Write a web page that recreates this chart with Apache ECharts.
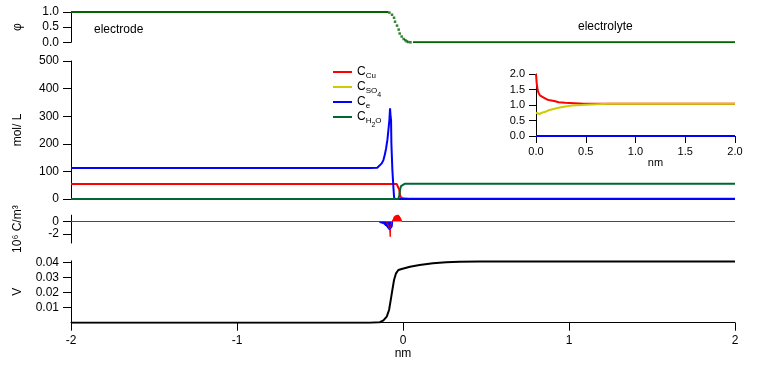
<!DOCTYPE html>
<html><head><meta charset="utf-8">
<script src="https://cdn.jsdelivr.net/npm/echarts@6/dist/echarts.min.js"></script>
<style>html,body{margin:0;padding:0;background:#fff}#c{width:761px;height:365px}</style>
</head><body><div id="c"></div>
<script>
// ---- data (x in nm) ----
const phiFlatX = [-2, -0.088, null, 0.06, 2];
const phiFlatY = [1, 1, null, 0, 0];
const phiDotX = [-0.082, -0.066, -0.054, -0.048, -0.036, -0.026, -0.020, -0.008, 0.004, 0.014, 0.022, 0.032, 0.045];
const phiDotY = [0.98, 0.91, 0.81, 0.68, 0.55, 0.42, 0.29, 0.19, 0.11, 0.07, 0.03, 0.01, 0.0];

const cuX = [-2, -0.038, -0.028, -0.022, -0.018, -0.012, -0.005, 0, 0.007, 0.017, 0.027, 0.043, 0.077, 0.11, 0.143, 0.193, 0.227, 0.293, 0.31, 0.477, 0.727, 2];
const cuY = [54.3, 54.3, 51, 33, 14, 6, 3, 2.0, 1.70, 1.48, 1.38, 1.30, 1.24, 1.18, 1.15, 1.12, 1.09, 1.075, 1.04, 1.04, 1.04, 1.04];
const so4X = [-2, -0.02, 0, 0.01, 0.033, 0.06, 0.093, 0.127, 0.177, 0.227, 0.293, 0.36, 0.46, 0.5, 0.727, 2];
const so4Y = [0, 0, 0.75, 0.73, 0.71, 0.75, 0.78, 0.83, 0.87, 0.91, 0.95, 0.98, 1.0, 1.01, 1.04, 1.04];
const eX = [-2, -0.2, -0.155, -0.143, -0.128, -0.118, -0.11, -0.102, -0.094, -0.088, -0.082, -0.078, -0.075, -0.072, -0.07, -0.064, -0.058, -0.054, -0.05, 0, 2];
const eY = [112, 112, 113, 119, 129, 141, 159, 183, 214, 250, 286, 329, 300, 286, 202, 105, 45, 8, 0, 0, 0];
const h2oX = [-2, -0.028, -0.022, -0.018, -0.012, -0.002, 0.012, 2];
const h2oY = [0, 0, 14, 33, 47, 54, 55.5, 55.5];

const rhoX = [-2, -0.1, -0.094, -0.086, -0.08, -0.077, -0.075, -0.072, -0.066, -0.062, -0.058, -0.052, -0.045, -0.03, -0.02, -0.014, -0.008, 2];
const rhoY = [0, 0, -0.3, -0.8, -1.4, -2.4, -1.5, -0.5, 0, 0, 0.4, 0.8, 1.05, 1.1, 0.9, 0.5, 0, 0];
const rhoEX = [-0.142, -0.13, -0.12, -0.108, -0.098, -0.09, -0.084, -0.078, -0.072, -0.066, -0.062];
const rhoEY = [-0.15, -0.2, -0.3, -0.5, -0.8, -1.1, -1.3, -1.4, -1.3, -0.9, 0];

const vX = [-2, -0.2, -0.139, -0.118, -0.098, -0.084, -0.074, -0.064, -0.054, -0.042, -0.028, -0.008, 0.042, 0.10, 0.18, 0.26, 0.34, 0.46, 2];
const vY = [0, 0, 0.0003, 0.0015, 0.004, 0.0084, 0.015, 0.0217, 0.0283, 0.0327, 0.0349, 0.0356, 0.0371, 0.0382, 0.0393, 0.04, 0.0404, 0.0405, 0.0405];

const legendNames = ['C_Cu', 'C_SO4', 'C_e', 'C_H2O'];
const legendLabels = {
  'C_Cu': '{c|C}{s|Cu}{ss| }',
  'C_SO4': '{c|C}{s|SO}{ss|4}',
  'C_e': '{c|C}{s|e}{ss| }',
  'C_H2O': '{c|C}{s|H}{ss|2}{s|O}'
};

// ---- helpers ----
const zip = (xs, ys) => xs.map((x, i) => (x === null ? null : [x, ys[i]]));
const zipFrom = (xs, ys, x0) => xs.map((x, i) => [x, ys[i]]).filter(p => p[0] >= x0);

const FONT = 'Liberation Sans, Arial, Helvetica, sans-serif';
const lbl = {color: '#000', fontSize: 12, fontFamily: FONT};
const axLine = {show: true, onZero: false, lineStyle: {color: '#000', width: 1}};
const axTick = {show: true, length: 8, lineStyle: {color: '#000', width: 1}};

function hidX(gi) {
  return {type: 'value', gridIndex: gi, min: -2, max: 2, interval: 1, show: false};
}
function yAx(gi, o) {
  return Object.assign({
    type: 'value', gridIndex: gi, nameLocation: 'middle', nameRotate: 90, nameGap: 47,
    nameTextStyle: {color: '#000', fontSize: 12, fontFamily: FONT},
    axisLine: axLine, axisTick: axTick, splitLine: {show: false},
    axisLabel: Object.assign({margin: 12}, lbl)
  }, o);
}

const chart = echarts.init(document.getElementById('c'), null, {renderer: 'canvas'});
chart.setOption({
  animation: false,
  backgroundColor: '#fff',
  textStyle: {fontFamily: FONT},
  grid: [
    {left: 71, right: 26, top: 12, height: 30.3},
    {left: 71, right: 26, top: 61, height: 138},
    {left: 71, right: 26, top: 215.16, height: 27.9},
    {left: 71, right: 26, top: 260.8, height: 61.9},
    {left: 536, right: 26, top: 74, height: 62}
  ],
  xAxis: [
    hidX(0), hidX(1), hidX(2),
    {type: 'value', gridIndex: 3, min: -2, max: 2, interval: 1,
     name: 'nm', nameLocation: 'middle', nameGap: 25,
     nameTextStyle: {color: '#000', fontSize: 12, fontFamily: FONT},
     axisLine: axLine, axisTick: axTick, splitLine: {show: false},
     axisLabel: Object.assign({margin: 12}, lbl)},
    {type: 'value', gridIndex: 4, min: 0, max: 2, interval: 0.5,
     name: 'nm', nameLocation: 'middle', nameGap: 6,
     nameTextStyle: {color: '#000', fontSize: 11, fontFamily: FONT, padding: [0, 0, 0, 40]},
     axisLine: axLine, axisTick: {show: true, length: 7, lineStyle: {color: '#000'}}, splitLine: {show: false},
     axisLabel: Object.assign({}, lbl, {fontSize: 11, margin: 10, formatter: v => v.toFixed(1)})}
  ],
  yAxis: [
    yAx(0, {min: 0, max: 1, interval: 0.5, name: 'φ',
      axisLabel: Object.assign({margin: 12, formatter: v => v.toFixed(1)}, lbl)}),
    yAx(1, {min: 0, max: 500, interval: 100, name: 'mol/ L'}),
    yAx(2, {min: -3.4, max: 1, name: '10⁶ C/m³',
      axisTick: Object.assign({customValues: [-2, 0]}, axTick),
      axisLabel: Object.assign({margin: 12, customValues: [-2, 0]}, lbl)}),
    yAx(3, {min: 0, max: 0.041, name: 'V',
      axisTick: Object.assign({customValues: [0.01, 0.02, 0.03, 0.04]}, axTick),
      axisLabel: Object.assign({margin: 12, customValues: [0.01, 0.02, 0.03, 0.04], formatter: v => v.toFixed(2)}, lbl)}),
    yAx(4, {min: 0, max: 2, interval: 0.5, nameGap: 0,
      axisTick: {show: true, length: 7, lineStyle: {color: '#000'}},
      axisLabel: Object.assign({}, lbl, {fontSize: 11, margin: 11, formatter: v => v.toFixed(1)})})
  ],
  legend: {
    data: legendNames, orient: 'vertical', left: 333, top: 64.5, padding: 0,
    icon: 'rect', itemWidth: 19, itemHeight: 2, itemGap: -4,
    formatter: n => legendLabels[n],
    textStyle: {
      color: '#000', fontFamily: FONT, lineHeight: 15,
      rich: {
        c: {fontSize: 12, fontFamily: FONT, color: '#000', lineHeight: 15, verticalAlign: 'top', padding: [1.5, 0, 0, 0]},
        s: {fontSize: 8, fontFamily: FONT, color: '#000', lineHeight: 15, verticalAlign: 'top', padding: [7, 0, 0, 0]},
        ss: {fontSize: 7, fontFamily: FONT, color: '#000', lineHeight: 15, verticalAlign: 'top', padding: [12, 0, 0, 0]}
      }
    },
    selectedMode: false
  },
  graphic: [
    {type: 'text', left: 94, top: 24, style: {text: 'electrode', fontSize: 12, fontFamily: FONT, fill: '#000'}},
    {type: 'text', left: 578, top: 21, style: {text: 'electrolyte', fontSize: 12, fontFamily: FONT, fill: '#000'}}
  ],
  series: [
    {type: 'line', xAxisIndex: 0, yAxisIndex: 0, data: zip(phiFlatX, phiFlatY), showSymbol: false,
     lineStyle: {color: '#006400', width: 2}, itemStyle: {color: '#006400'}},
    {type: 'scatter', xAxisIndex: 0, yAxisIndex: 0, data: zip(phiDotX, phiDotY), symbol: 'rect', symbolSize: 2.5,
     itemStyle: {color: '#006400'}},

    {name: 'C_Cu', type: 'line', xAxisIndex: 1, yAxisIndex: 1, data: zip(cuX, cuY), showSymbol: false,
     lineStyle: {color: '#ff0000', width: 2}, itemStyle: {color: '#ff0000'}},
    {name: 'C_SO4', type: 'line', xAxisIndex: 1, yAxisIndex: 1, data: zip(so4X, so4Y), showSymbol: false,
     lineStyle: {color: '#cccc00', width: 2}, itemStyle: {color: '#cccc00'}},
    {name: 'C_e', type: 'line', xAxisIndex: 1, yAxisIndex: 1, data: zip(eX, eY), showSymbol: false,
     lineStyle: {color: '#0000ff', width: 2}, itemStyle: {color: '#0000ff'}},
    {name: 'C_H2O', type: 'line', xAxisIndex: 1, yAxisIndex: 1, data: zip(h2oX, h2oY), showSymbol: false,
     lineStyle: {color: '#006633', width: 2}, itemStyle: {color: '#006633'}},

    {type: 'line', xAxisIndex: 2, yAxisIndex: 2, data: zip(rhoX, rhoY), showSymbol: false,
     lineStyle: {color: '#ff0000', width: 1}, areaStyle: {color: '#ff0000', opacity: 1, origin: 0}},
    {type: 'line', xAxisIndex: 2, yAxisIndex: 2, data: zip(rhoEX, rhoEY), showSymbol: false,
     lineStyle: {color: '#0000ff', width: 1}, areaStyle: {color: '#0000ff', opacity: 1, origin: 0}},

    {type: 'line', xAxisIndex: 3, yAxisIndex: 3, data: zip(vX, vY), showSymbol: false,
     lineStyle: {color: '#000', width: 2}},

    {name: 'C_Cu', type: 'line', xAxisIndex: 4, yAxisIndex: 4, data: zipFrom(cuX, cuY, 0), showSymbol: false,
     lineStyle: {color: '#ff0000', width: 2}, itemStyle: {color: '#ff0000'}},
    {name: 'C_SO4', type: 'line', xAxisIndex: 4, yAxisIndex: 4, data: zipFrom(so4X, so4Y, 0), showSymbol: false,
     lineStyle: {color: '#cccc00', width: 2}, itemStyle: {color: '#cccc00'}},
    {name: 'C_e', type: 'line', xAxisIndex: 4, yAxisIndex: 4, data: zipFrom(eX, eY, 0), showSymbol: false,
     lineStyle: {color: '#0000ff', width: 2}, itemStyle: {color: '#0000ff'}}
  ]
});
</script></body></html>
